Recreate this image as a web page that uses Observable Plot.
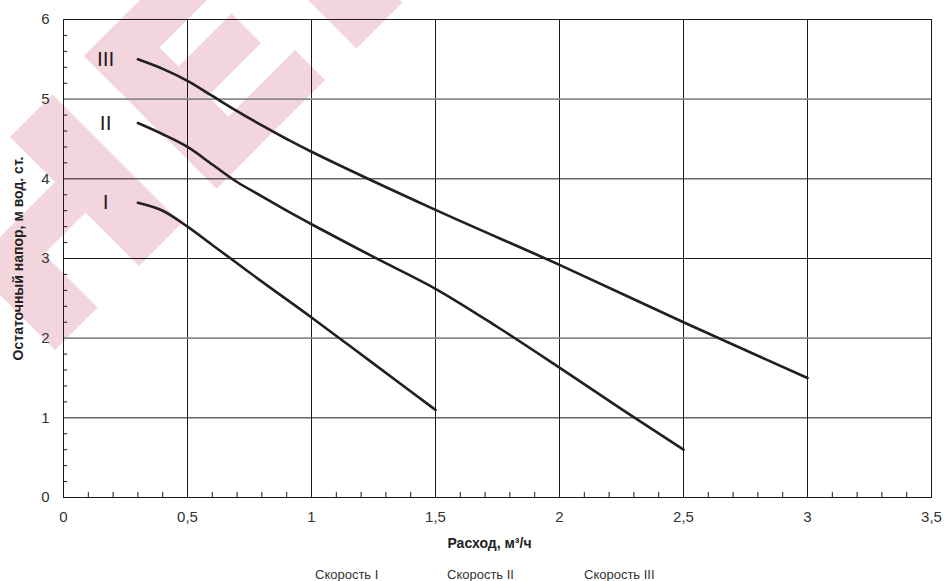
<!DOCTYPE html>
<html>
<head>
<meta charset="utf-8">
<script src="https://cdn.jsdelivr.net/npm/d3@7"></script>
<script src="https://cdn.jsdelivr.net/npm/@observablehq/plot@0.6"></script>
<style>
  html, body { margin: 0; padding: 0; background: #fff; overflow: hidden; }
  #chart { position: relative; width: 944px; }
  #legend { position: relative; width: 944px; height: 19px; padding-top: 3px;
    font-family: "Liberation Sans", Arial, sans-serif; font-size: 13px; color: #333; line-height: 19px; }
  #legend span { position: absolute; top: 3px; white-space: nowrap; }
</style>
</head>
<body>
<div id="chart"></div>
<div id="legend"></div>
<script>
// ---- data ----
const speeds = ["I", "II", "III"];
const flowI   = [0.3, 0.4, 0.5, 0.6, 0.7, 0.8, 1.0, 1.25, 1.5];
const headI   = [3.7, 3.6, 3.4, 3.17, 2.94, 2.71, 2.26, 1.68, 1.1];
const flowII  = [0.3, 0.4, 0.5, 0.6, 0.7, 0.8, 0.9, 1.0, 1.25, 1.5, 1.75, 2.0, 2.25, 2.5];
const headII  = [4.7, 4.56, 4.4, 4.18, 3.96, 3.78, 3.6, 3.43, 3.02, 2.62, 2.14, 1.63, 1.11, 0.6];
const flowIII = [0.3, 0.4, 0.5, 0.6, 0.7, 0.8, 0.9, 1.0, 1.5, 2.0, 2.5, 3.0];
const headIII = [5.5, 5.38, 5.23, 5.04, 4.85, 4.67, 4.5, 4.34, 3.61, 2.92, 2.2, 1.5];
const xTicks = [0, 0.5, 1, 1.5, 2, 2.5, 3, 3.5];
const yTicks = [0, 1, 2, 3, 4, 5, 6];
const legendLabels = ["Скорость I", "Скорость II", "Скорость III"];
const xTitle = "Расход, м³/ч";
const yTitle = "Остаточный напор, м вод. ст.";
const curveLabelX = 0.17;

// table for the library
const flows = [flowI, flowII, flowIII];
const heads = [headI, headII, headIII];
const rows = speeds.flatMap((s, i) => flows[i].map((f, j) => ({speed: s, flow: f, head: heads[i][j]})));
const starts = speeds.map((s, i) => ({speed: s, flow: curveLabelX, head: heads[i][0]}));
const minorX = d3.range(1, 35).map(i => i / 10).filter(v => Math.abs(v * 2 - Math.round(v * 2)) > 1e-6);
const minorY = d3.range(1, 30).map(i => i / 5).filter(v => Math.abs(v - Math.round(v)) > 1e-6);
const fmt = d => String(d).replace(".", ",");

// decorative background logo (rotated 45°), rectangles in P=x+y, Q=x-y pixel frame
const logoRects = [
  [140, 405, 28, 112], [140, 207, 28, 450], [245, 304, 28, 218], [345, 405, 28, 245],
  [250, 405, 308, 400],
  [147, 405, -127, -42], [237, 298, -210, -127], [237, 405, -295, -210]
];
function logo() {
  const g = d3.create("svg:g").attr("fill", "#f3d5dd");
  for (const [p0, p1, q0, q1] of logoRects) {
    const pts = [[p0, q0], [p1, q0], [p1, q1], [p0, q1]].map(([p, q]) => [(p + q) / 2, (p - q) / 2]);
    g.append("polygon").attr("points", pts.map(d => d.join(",")).join(" "));
  }
  return g.node();
}

const ink = "#1c1c1c";
const chart = Plot.plot({
  width: 944,
  height: 562,
  marginLeft: 63,
  marginRight: 13,
  marginTop: 19,
  marginBottom: 65,
  x: {domain: [0, 3.5]},
  y: {domain: [0, 6]},
  style: {fontFamily: "'Liberation Sans', Arial, sans-serif", fontSize: "15px", color: "#333", background: "transparent", overflow: "visible"},
  marks: [
    logo,
    Plot.ruleX(xTicks.slice(1, -1), {stroke: ink, strokeWidth: 1}),
    Plot.ruleY([1, 3, 4], {stroke: ink, strokeWidth: 1}),
    Plot.ruleY([2, 5], {stroke: "#8a8a8a", strokeWidth: 1.6}),
    Plot.ruleX(minorX, {x: d => d, y1: 0, y2: 0.065, stroke: ink, strokeWidth: 1}),
    Plot.ruleY(minorY, {y: d => d, x1: 0, x2: 0.017, stroke: ink, strokeWidth: 1}),
    Plot.frame({stroke: ink, strokeWidth: 1}),
    Plot.axisX(xTicks, {tickSize: 0, tickPadding: 14, tickFormat: fmt, label: null, fill: "#333"}),
    Plot.axisY(yTicks, {tickSize: 0, tickPadding: 14, tickFormat: fmt, label: null, fill: "#333"}),
    Plot.line(rows, {x: "flow", y: "head", z: "speed", curve: "catmull-rom", stroke: "#231f20", strokeWidth: 2.6}),
    Plot.text(starts, {x: "flow", y: "head", text: "speed", fontSize: 21, fill: "#2b1b20", textAnchor: "middle"}),
    Plot.text([xTitle], {frameAnchor: "bottom", dy: 50, dx: -8, fontWeight: "bold", fontSize: 14, fill: "#222", textAnchor: "middle"}),
    Plot.text([yTitle], {frameAnchor: "left", dx: -45, rotate: -90, fontWeight: "bold", fontSize: 14, fill: "#222", textAnchor: "middle"})
  ]
});
document.getElementById("chart").appendChild(chart);

const legend = document.getElementById("legend");
const legendLeft = [315, 447, 584];
legendLabels.forEach((t, i) => {
  const s = document.createElement("span");
  s.textContent = t;
  s.style.left = legendLeft[i] + "px";
  legend.appendChild(s);
});
</script>
</body>
</html>
